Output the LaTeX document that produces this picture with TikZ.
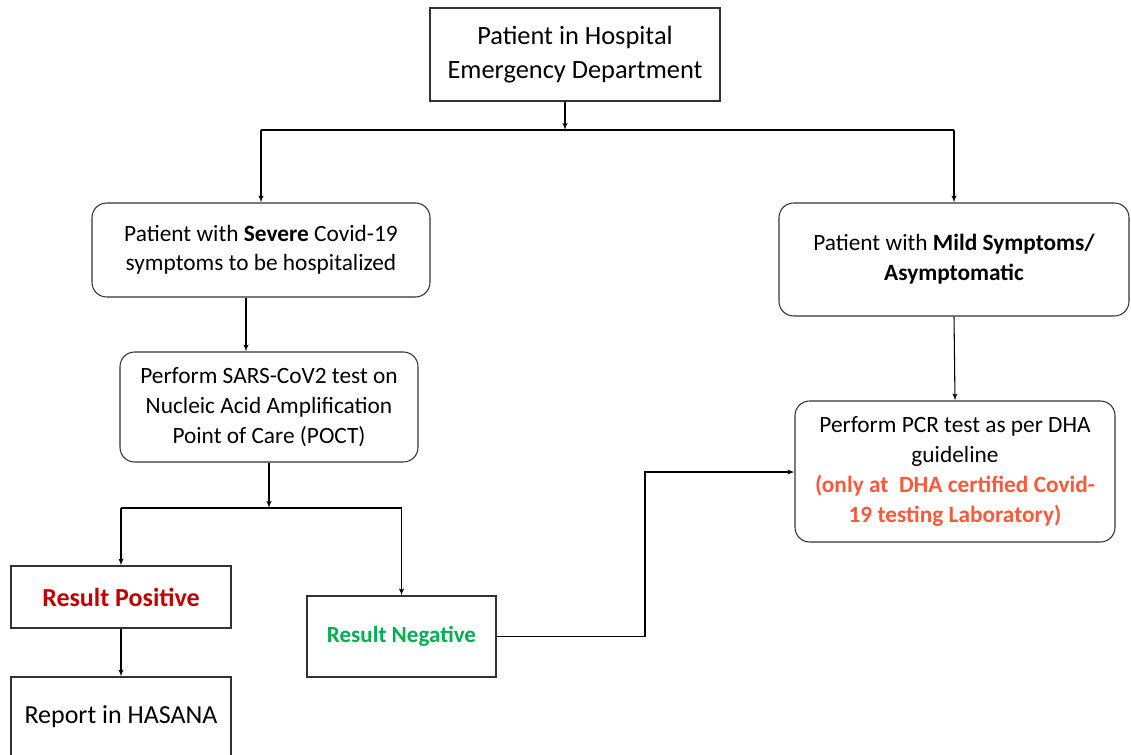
\documentclass[tikz,border=0pt]{standalone}
\usepackage{fontspec}
\setmainfont{Carlito}
\usepackage{tikz}
\usetikzlibrary{arrows,shapes}

\definecolor{posred}{HTML}{C00000}
\definecolor{neggreen}{HTML}{00B050}
\definecolor{labred}{HTML}{FA5A3C}

\begin{document}
\begin{tikzpicture}[->,>=latex',x=0.75pt,y=-0.75pt,line width=0.8pt,
                    every text node part/.style={align=center}]
  \tikzstyle{sqbox}=[draw=black!80,fill=white,rectangle,inner sep=0pt,font=\fontsize{17.5}{22.5}\selectfont]
  \tikzstyle{rndbox}=[sqbox,rounded corners=11pt]
  \useasboundingbox (0,0) rectangle (1131,755);

  \node[sqbox,minimum width=217.5pt,minimum height=69.75pt,font=\fontsize{19.8}{25.5}\selectfont]
        (ED) at (575,54.5) {Patient in Hospital\\Emergency Department};
  \node[rndbox,minimum width=253.5pt,minimum height=70.5pt,font=\fontsize{17.5}{21.75}\selectfont]
        (severe) at (261,250) {Patient with \textbf{Severe} Covid-19\\symptoms to be hospitalized};
  \node[rndbox,minimum width=262.5pt,minimum height=84.75pt]
        (mild) at (954,259.5) {Patient with \textbf{Mild Symptoms/}\\\textbf{Asymptomatic}};
  \node[rndbox,minimum width=223.5pt,minimum height=82.5pt]
        (POCT) at (269,407) {Perform SARS-CoV2 test on\\Nucleic Acid Amplification\\Point of Care (POCT)};
  \node[rndbox,minimum width=240pt,minimum height=105.75pt]
        (PCR) at (955,471.5) {Perform PCR test as per DHA\\guideline\\
        \textcolor{labred}{\textbf{(only at\ \ DHA certified Covid-}}\\\textcolor{labred}{\textbf{19 testing Laboratory)}}};
  \node[sqbox,minimum width=165pt,minimum height=46.5pt,font=\fontsize{19.5}{24}\selectfont]
        (pos) at (121,597) {\textcolor{posred}{\textbf{Result Positive}}};
  \node[sqbox,minimum width=141.75pt,minimum height=60.75pt,font=\fontsize{17.3}{22}\selectfont]
        (neg) at (401.5,636.5) {\textcolor{neggreen}{\textbf{Result Negative}}};
  \node[sqbox,minimum width=165pt,minimum height=60pt,font=\fontsize{19.5}{24}\selectfont]
        (HASANA) at (121,717) {Report in HASANA};

  \coordinate (top split) at (565,130);
  \coordinate (test split) at (269,508);
  \coordinate (bend) at (645,472);

  \draw (ED.south -| top split) -- (top split);
  \draw[-] (severe.north |- top split) -- (mild.north |- top split);
  \draw (severe.north |- top split) -- (severe.north);
  \draw (mild.north |- top split) -- (mild.north);
  \coordinate (sev out) at (246,297);
  \draw (severe.south -| sev out) -- (POCT.north -| sev out);
  \draw (POCT.south) -- (test split);
  \draw[-] (pos.north |- test split) -- (neg.north |- test split);
  \draw (pos.north |- test split) -- (pos.north);
  \draw (neg.north |- test split) -- (neg.north);
  \draw (pos) -- (HASANA);
  \draw (neg.east) -| (bend) -- (PCR.west |- bend);
  \draw (mild.south) -- (PCR.north);
\end{tikzpicture}
\end{document}
